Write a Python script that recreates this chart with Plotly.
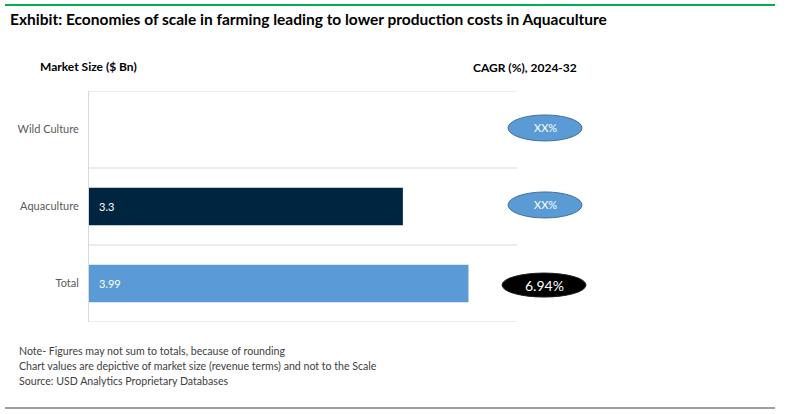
import plotly.graph_objects as go

categories = ["Total", "Aquaculture", "Wild Culture"]
market_size = [3.99, 3.3, None]
bar_colors = ["#5B9BD5", "#002540", "#5B9BD5"]
cagr_labels = ["6.94%", "XX%", "XX%"]
cagr_fill = ["#000000", "#5B9BD5", "#5B9BD5"]
cagr_line = ["#1F1F1F", "#41719C", "#41719C"]

title = "Exhibit: Economies of scale in farming leading to lower production costs in Aquaculture"
notes = [
    "Note- Figures may not sum to totals, because of rounding",
    "Chart values are depictive of market size (revenue terms) and not to the Scale",
    "Source: USD Analytics Proprietary Databases",
]

W, H = 786, 414
L, R, T, B = 89, 517, 91, 322
FONT = "Lato"

fig = go.Figure()
fig.add_trace(go.Bar(
    y=categories, x=market_size, orientation="h",
    marker=dict(color=bar_colors, line=dict(width=0)),
    width=0.49, cliponaxis=False, hoverinfo="skip",
))


def px(xp):
    return (xp - L) / (R - L)


def py(yp):
    return (B - yp) / (B - T)


shapes = []
for yb in [-0.5, 0.5, 1.5, 2.5]:
    shapes.append(dict(type="line", xref="paper", yref="y", x0=0, x1=1, y0=yb, y1=yb,
                       line=dict(color="#D9D9D9", width=1)))
shapes.append(dict(type="line", xref="paper", yref="paper", x0=px(5), x1=px(775),
                   y0=py(5), y1=py(5), line=dict(color="#00B050", width=2)))
shapes.append(dict(type="line", xref="paper", yref="paper", x0=px(5), x1=px(775),
                   y0=py(408), y1=py(408), line=dict(color="#808080", width=1.5)))

annotations = []
for c, v in zip(categories, market_size):
    if v is not None:
        annotations.append(dict(xref="x", yref="y", x=0, y=c, xanchor="left", xshift=8,
                                text=f"{v:g}", showarrow=False,
                                font=dict(color="white", size=11, family=FONT)))

for i, (lab, fc, lc) in enumerate(zip(cagr_labels, cagr_fill, cagr_line)):
    big = lab != "XX%"
    cx = 544 if big else 545
    hw = 42 if big else 37
    hh = 12 if big else 13
    yc = i - 0.02 if big else i + 0.02
    shapes.append(dict(type="circle", xref="paper", yref="y",
                       x0=px(cx - hw), x1=px(cx + hw),
                       y0=yc - hh / 77, y1=yc + hh / 77,
                       fillcolor=fc, line=dict(color=lc, width=1)))
    annotations.append(dict(xref="paper", yref="y", x=px(cx), y=yc, xanchor="center",
                            yanchor="middle", text=lab, showarrow=False,
                            font=dict(color="white", size=14 if big else 11, family=FONT)))

annotations.append(dict(xref="paper", yref="paper", x=px(8), y=py(19), xanchor="left", yanchor="middle",
                        text=f"<b>{title}</b>", showarrow=False,
                        font=dict(size=15.5, color="#000000", family=FONT)))
annotations.append(dict(xref="paper", yref="paper", x=px(38), y=py(66), xanchor="left", yanchor="middle",
                        text="<b>Market Size ($ Bn)</b>", showarrow=False,
                        font=dict(size=12, color="#000000", family=FONT)))
annotations.append(dict(xref="paper", yref="paper", x=px(471), y=py(68), xanchor="left", yanchor="middle",
                        text="<b>CAGR (%), 2024-32</b>", showarrow=False,
                        font=dict(size=12, color="#000000", family=FONT)))
for j, n in enumerate(notes):
    annotations.append(dict(xref="paper", yref="paper", x=px(17), y=py(351 + 15 * j),
                            xanchor="left", yanchor="middle", text=n, showarrow=False,
                            font=dict(size=10.6, color="#404040", family=FONT)))

fig.update_layout(
    width=W, height=H,
    margin=dict(l=L, r=W - R, t=T, b=H - B, pad=0),
    paper_bgcolor="white", plot_bgcolor="white",
    showlegend=False,
    xaxis=dict(range=[0, 4.5], visible=False, fixedrange=True),
    yaxis=dict(categoryorder="array", categoryarray=categories, range=[-0.5, 2.5],
               showgrid=False, showline=True, linecolor="#D9D9D9", linewidth=1,
               ticks="", ticklabelstandoff=7,
               tickfont=dict(size=11, color="#595959", family=FONT), zeroline=False),
    shapes=shapes, annotations=annotations,
    font=dict(family=FONT),
)

fig.write_html("out.html")
